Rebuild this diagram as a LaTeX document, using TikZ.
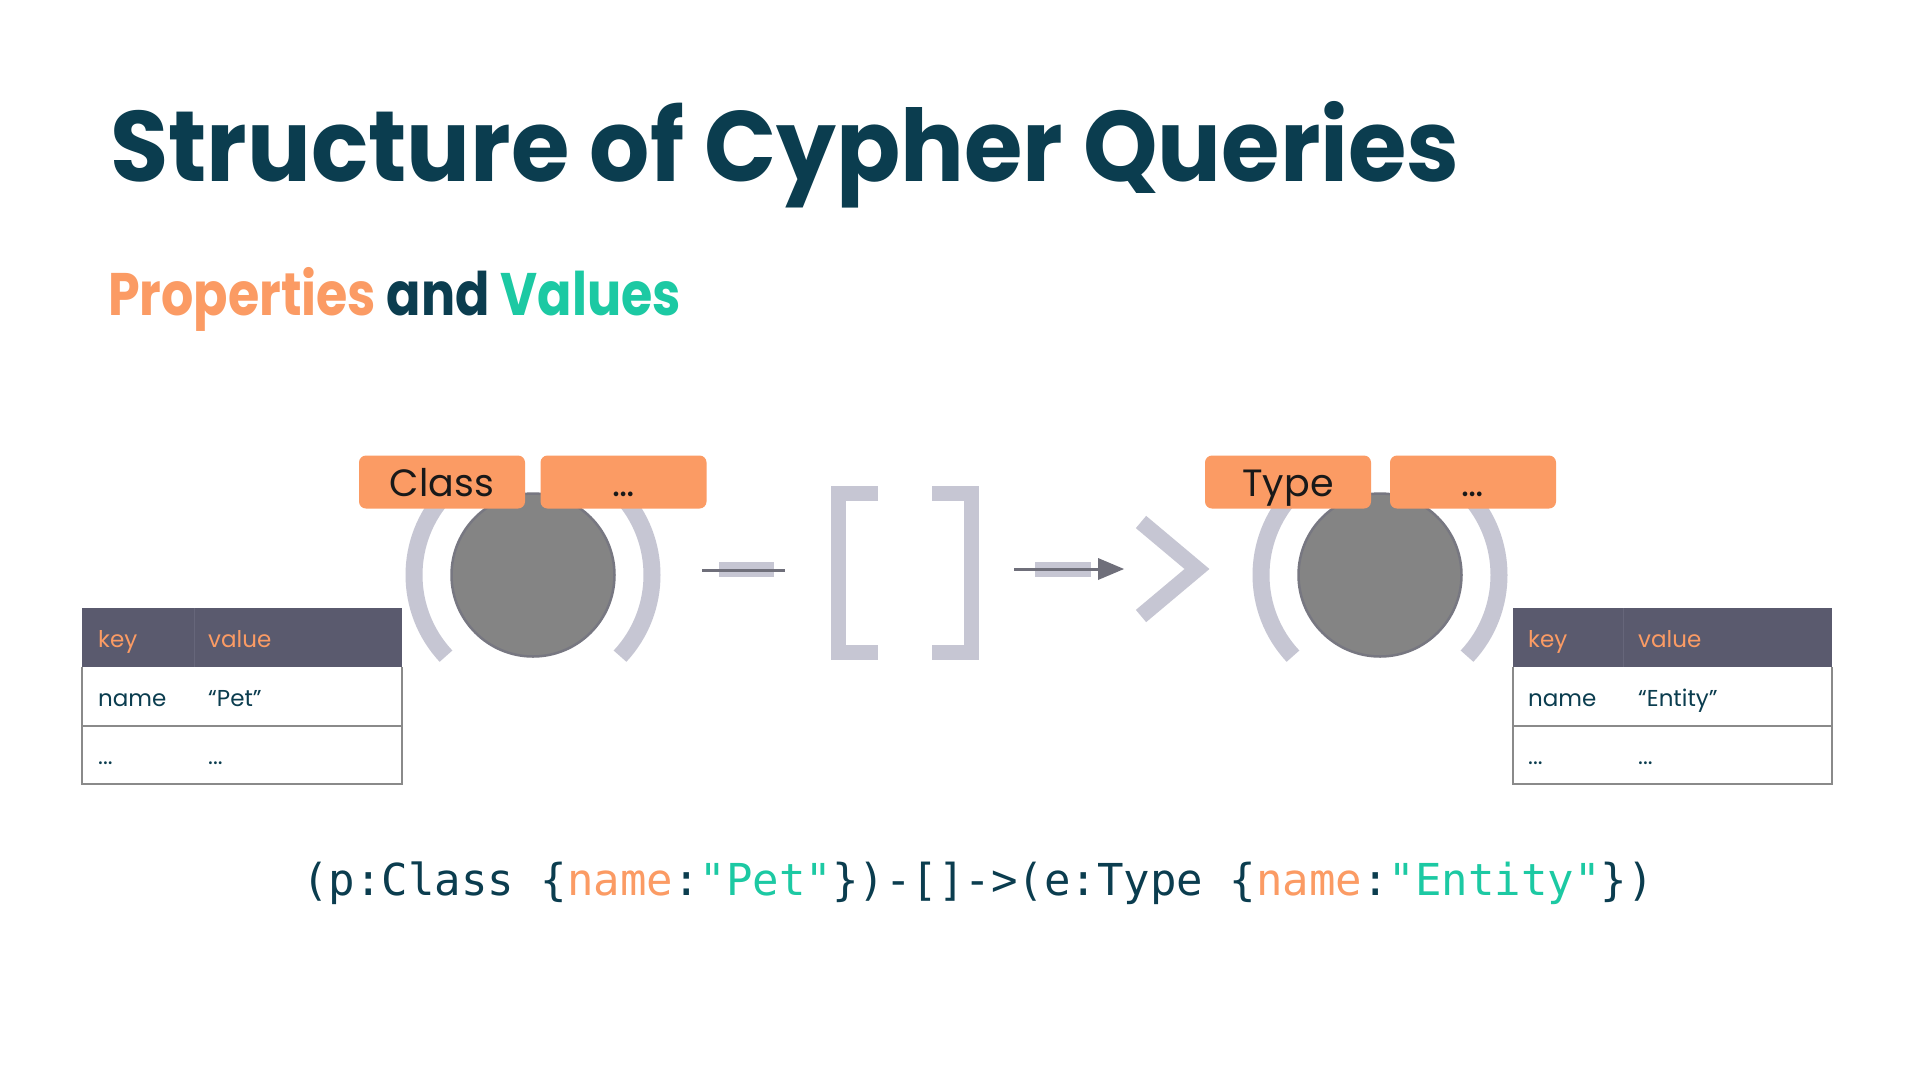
\documentclass[tikz,border=0pt]{standalone}
\usepackage{fontspec}
\setmainfont{Poppins}
\setmonofont{DejaVu Sans Mono}
\usetikzlibrary{calc}
\definecolor{navy}{HTML}{0B3D4F}
\definecolor{peach}{HTML}{FB9B64}
\definecolor{mint}{HTML}{1CC9A3}
\definecolor{lilac}{HTML}{C6C6D3}
\definecolor{ngray}{HTML}{848484}
\definecolor{nedge}{HTML}{777781}
\definecolor{slate}{HTML}{5A5A6E}
\definecolor{slatediv}{HTML}{66667A}
\definecolor{darkline}{HTML}{6F6F7A}
\definecolor{tborder}{HTML}{8A8A8A}
\tikzset{
  gnode/.style={circle, fill=ngray, draw=nedge, line width=2.5pt, minimum size=163pt, inner sep=0},
  paren/.style={draw=lilac, line width=17pt},
  labbox/.style={fill=peach, rounded corners=7pt, minimum width=166pt, minimum height=53pt,
    inner sep=0, text height=28pt, text depth=0pt, font=\fontsize{38}{38}\selectfont, text=black!90},
  glyph/.style={draw=lilac, line width=15pt, line join=miter},
  thintext/.style={anchor=base west, inner sep=0, font=\fontsize{23}{23}\selectfont},
  tline/.style={draw=tborder, line width=1.5pt},
}
\begin{document}
\begin{tikzpicture}[x=1pt,y=-1pt]
\useasboundingbox[fill=white] (0,0) rectangle (1920,1080);

% titles
\node[anchor=base west, inner sep=0, text=navy, font=\fontsize{100}{100}\selectfont\bfseries] (title) at (110,181) {\scalebox{0.947}[1]{Structure of Cypher Queries}};
\node[anchor=base west, inner sep=0, font=\fontsize{60}{60}\selectfont\bfseries] (sub) at (108,315) {\scalebox{0.845}[1]{\textcolor{peach}{Properties} \textcolor{navy}{and} \textcolor{mint}{Values}}};

% left node
\node[gnode] (c1) at (533,575) {};
\draw[paren] (c1.center) ++(137:119) arc[start angle=137, end angle=223, radius=119];
\draw[paren] (c1.center) ++(-43:119) arc[start angle=-43, end angle=43, radius=119];

% right node
\node[gnode] (c2) at (1380,575) {};
\draw[paren] (c2.center) ++(137:119) arc[start angle=137, end angle=223, radius=119];
\draw[paren] (c2.center) ++(-43:119) arc[start angle=-43, end angle=43, radius=119];

% labels
\node[labbox] (lclass) at (442,482) {Class};
\node[labbox] (ldots1) at (623.5,482) {…};
\node[labbox] (ltype) at (1288,482) {Type};
\node[labbox] (ldots2) at (1473,482) {…};

% dash
\coordinate (d1) at (702,570);
\coordinate (d2) at (785,570);
\fill[lilac] (719,562) rectangle (774,577);
\draw[darkline, line width=3pt] (d1) -- (d2);

% brackets
\draw[glyph] (878,493) -- (838,493) -- (838,652) -- (878,652);
\draw[glyph] (932,493) -- (971,493) -- (971,652) -- (932,652);

% arrow
\coordinate (a1) at (1014,569);
\coordinate (a2) at (1099,569);
\coordinate (atip) at (1124,569);
\fill[lilac] (1035,562) rectangle (1091,577);
\draw[darkline, line width=3pt] (a1) -- (a2);
\fill[darkline] (1098,558) -- (atip) -- (1098,580) -- cycle;

% chevron
\draw[glyph, line width=16pt] (1141,522) -- (1197,569) -- (1141,616);

% left table
\fill[slate] (82,608) rectangle (402,667);
\draw[slatediv, line width=1pt] (194,608) -- (194,667);
\draw[tline] (82,667) -- (82,784) -- (402,784) -- (402,667);
\draw[tline] (82,726) -- (402,726);
\node[thintext, text=peach] (lk) at (98,647) {key};
\node[thintext, text=peach] (lv) at (208,647) {value};
\node[thintext, text=navy] (lname) at (98,706) {name};
\node[thintext, text=navy] (lpet) at (208,706) {“Pet”};
\node[thintext, text=navy] (ld1) at (98,764) {...};
\node[thintext, text=navy] (ld2) at (208,764) {...};

% right table
\fill[slate] (1513,608) rectangle (1832,667);
\draw[slatediv, line width=1pt] (1623,608) -- (1623,667);
\draw[tline] (1513,667) -- (1513,784) -- (1832,784) -- (1832,667);
\draw[tline] (1513,726) -- (1832,726);
\node[thintext, text=peach] (rk) at (1528,647) {key};
\node[thintext, text=peach] (rv) at (1638,647) {value};
\node[thintext, text=navy] (rname) at (1528,706) {name};
\node[thintext, text=navy] (rent) at (1638,706) {“Entity”};
\node[thintext, text=navy] (rd1) at (1528,764) {...};
\node[thintext, text=navy] (rd2) at (1638,764) {...};

% code
\node[anchor=base, inner sep=0, font=\ttfamily\fontsize{44}{44}\selectfont, text=navy] (code) at (978,895)
  {(p:Class \{\textcolor{peach}{name}:\textcolor{mint}{"Pet"}\})-[]->(e:Type \{\textcolor{peach}{name}:\textcolor{mint}{"Entity"}\})};
\end{tikzpicture}
\end{document}
